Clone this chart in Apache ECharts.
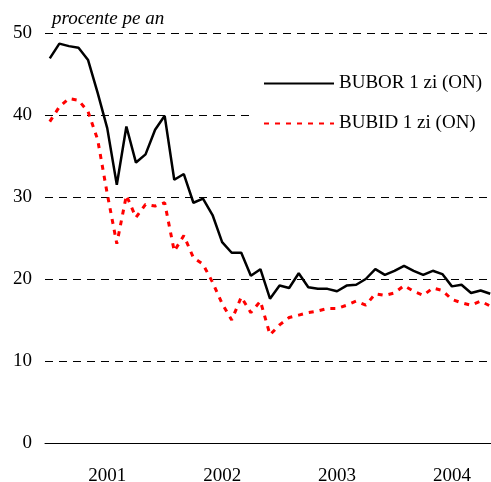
<!DOCTYPE html>
<html>
<head>
<meta charset="utf-8">
<script src="https://cdn.jsdelivr.net/npm/echarts@6/dist/echarts.min.js"></script>
<style>
  html, body { margin: 0; padding: 0; background: #fff; }
  #chart { width: 491px; height: 482px; }
</style>
</head>
<body>
<div id="chart"></div>
<script>
// lunile ian 2001 - nov 2004
const years = ["2001", "2002", "2003", "2004"];
const months = [];
years.forEach(y => {
  for (let m = 1; m <= 12; m++) {
    months.push(y + "-" + (m < 10 ? "0" + m : m));
  }
});
const categories = months.slice(0, 47);

const bubor = [
  46.9, 48.7, 48.4, 48.2, 46.7, 42.7, 38.4, 31.5, 38.6, 34.2, 35.2, 38.2,
  39.9, 32.1, 32.8, 29.3, 29.8, 27.8, 24.5, 23.2, 23.2, 20.4, 21.2, 17.6,
  19.2, 18.9, 20.7, 19.0, 18.8, 18.8, 18.5, 19.2, 19.3, 20.0, 21.2, 20.5,
  21.0, 21.6, 21.0, 20.5, 21.0, 20.6, 19.1, 19.3, 18.3, 18.6, 18.2
];
const bubid = [
  39.2, 41.0, 42.0, 41.8, 40.4, 37.0, 30.4, 24.3, 30.2, 27.5, 29.1, 28.9,
  29.3, 23.4, 25.3, 22.6, 21.8, 19.6, 17.0, 15.0, 17.8, 15.9, 17.3, 13.2,
  14.4, 15.3, 15.6, 15.9, 16.1, 16.4, 16.4, 16.8, 17.3, 16.8, 18.2, 18.0,
  18.3, 19.2, 18.5, 18.0, 18.9, 18.6, 17.5, 17.1, 16.8, 17.3, 16.7
];

const font = "Liberation Serif";
const chart = echarts.init(document.getElementById("chart"));

const option = {
  animation: false,
  backgroundColor: "#fff",
  title: {
    text: "procente pe an",
    left: 52,
    top: 9,
    padding: 0,
    textStyle: {
      fontFamily: font,
      fontSize: 19,
      fontStyle: "italic",
      fontWeight: "normal",
      color: "#000"
    }
  },
  legend: {
    orient: "vertical",
    left: 252,
    top: 62,
    padding: [12, 7, 12, 11],
    itemWidth: 70,
    itemHeight: 20,
    itemGap: 21,
    backgroundColor: "#fff",
    // doar linia, fara cerc
    itemStyle: { color: "rgba(0,0,0,0)", borderColor: "rgba(0,0,0,0)", borderWidth: 0 },
    textStyle: { fontFamily: font, fontSize: 19, color: "#000" },
    data: ["BUBOR 1 zi (ON)", "BUBID 1 zi (ON)"]
  },
  grid: {
    left: 45,
    top: 33,
    width: 450,
    height: 410,
    outerBoundsMode: "none"
  },
  xAxis: {
    type: "category",
    boundaryGap: true,
    data: categories,
    axisLine: { lineStyle: { color: "#000", width: 1 } },
    axisTick: {
      length: 7,
      interval: (i) => i % 12 === 0,
      lineStyle: { color: "#000" }
    },
    axisLabel: {
      interval: (i) => i % 12 === 6,
      formatter: (v) => v.slice(0, 4),
      margin: 24,
      fontFamily: font,
      fontSize: 19,
      color: "#000"
    },
    splitLine: { show: false }
  },
  yAxis: {
    type: "value",
    min: 0,
    max: 50,
    interval: 10,
    axisLine: { show: false },
    axisTick: { show: false },
    axisLabel: {
      margin: 13,
      fontFamily: font,
      fontSize: 19,
      color: "#000"
    },
    splitLine: {
      lineStyle: { color: "#000", width: 1, type: [8, 6] }
    }
  },
  series: [
    {
      name: "BUBOR 1 zi (ON)",
      type: "line",
      symbol: "none",
      data: bubor,
      lineStyle: { color: "#000", width: 2.5 },
      itemStyle: { color: "#000" }
    },
    {
      name: "BUBID 1 zi (ON)",
      type: "line",
      symbol: "none",
      data: bubid,
      lineStyle: { color: "#ff0000", width: 3, type: [5, 6] },
      itemStyle: { color: "#ff0000" }
    }
  ]
};

chart.setOption(option);
window.addEventListener("resize", () => {
  chart.resize();
});
</script>
</body>
</html>
